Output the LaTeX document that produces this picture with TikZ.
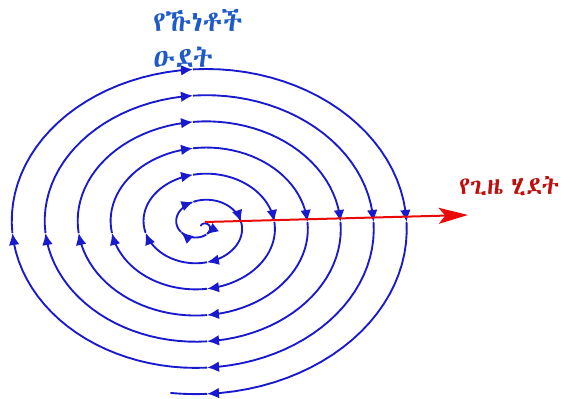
\documentclass[tikz,border=0pt]{standalone}
\usepackage{fontspec}
\usetikzlibrary{arrows.meta, positioning}
\IfFontExistsTF{Abyssinica SIL}{\newfontfamily\ethfont{Abyssinica SIL}}{%
  \IfFontExistsTF{FreeSerif}{\newfontfamily\ethfont{FreeSerif}}{%
    \newfontfamily\ethfont{DejaVu Sans}}}
\definecolor{spiralblue}{RGB}{25,25,205}
\definecolor{labelblue}{RGB}{30,90,200}
\definecolor{timered}{RGB}{235,10,10}
\definecolor{labelred}{RGB}{190,15,15}

\begin{document}
\begin{tikzpicture}[
  x=0.75pt, y=-0.75pt,
  turn/.style={draw=spiralblue, line width=1.4pt, line join=round,
    -{Latex[length=9pt, width=8pt]}},
  tail/.style={draw=spiralblue, line width=1.4pt},
  timeline/.style={draw=timered, line width=1.5pt,
    -{Stealth[length=22pt, width=12pt, inset=5pt]}},
  amh/.style={font=\ethfont\fontsize{21}{27}\selectfont, inner sep=0pt},
]
  \useasboundingbox (0,0) rectangle (564,399);

  % spiral, one quarter turn per piece, arrow at each end
  \def\tprev{-7.854}
  \foreach \k in {-3,...,21} {
    \pgfmathsetmacro\q{mod(\k+8,4)}
    \pgfmathsetmacro\th{\k*pi/2}
    \pgfmathsetmacro\rx{40.75+5.25*\th}
    \pgfmathsetmacro\ry{31.5+4.17*\th}
    \pgfmathsetmacro\off{\q==0 ? 3/\ry : (\q==1 ? 6/\rx : (\q==2 ? 8/\ry : 8/\rx))}
    \pgfmathsetmacro\te{\th-\off}
    \draw[turn] plot[domain=\tprev:\te, samples=25, variable=\t]
      ({201+(40.75+5.25*\t)*cos(\t r)}, {225+(31.5+4.17*\t)*sin(\t r)});
    \xdef\tprev{\te}
  }
  \draw[tail] plot[domain=\tprev:33.13, samples=10, variable=\t]
    ({201+(40.75+5.25*\t)*cos(\t r)}, {225+(31.5+4.17*\t)*sin(\t r)});

  \coordinate (hub) at (205,222);
  \coordinate (far) at (468,215);
  \draw[timeline] (hub) -- (far);

  \node[amh, text=labelblue, align=left, anchor=north west] (cyclelabel)
    at (153,9) {የኹነቶች\\ዑደት};
  \node[amh, font=\ethfont\fontsize{18.5}{24}\selectfont, text=labelred,
    anchor=base west] (timelabel) at (459,195) {የጊዜ\hspace{-0.15em} ሂደት};
\end{tikzpicture}
\end{document}
